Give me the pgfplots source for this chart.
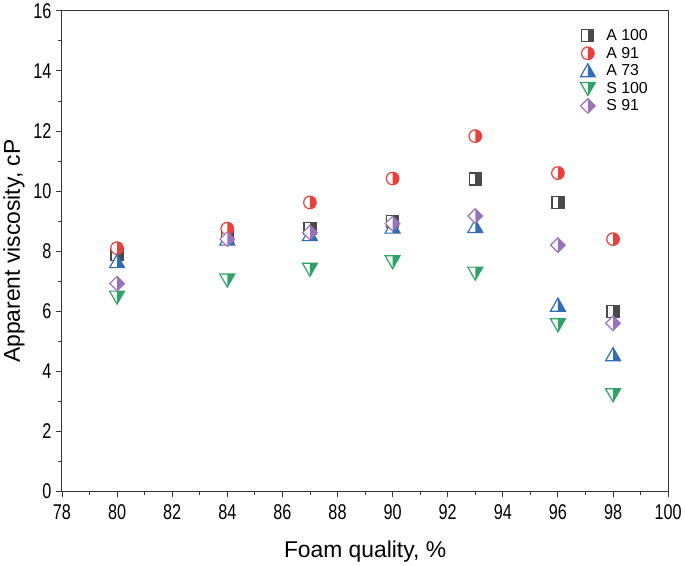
\documentclass[border=0pt]{standalone}
\usepackage{fontspec}
\setmainfont{Liberation Sans}
\newfontfamily\narrowfont[FakeStretch=0.76]{Liberation Sans}
\usepackage{pgfplots}
\pgfplotsset{compat=1.18}
\definecolor{cA100}{HTML}{4A4A4A}
\definecolor{cA91}{HTML}{E8413C}
\definecolor{cA73}{HTML}{2F6DB5}
\definecolor{cS100}{HTML}{2EA363}
\definecolor{cS91}{HTML}{9B72B9}
\definecolor{axc}{HTML}{3A3434}

% half-filled marks (right half filled, left half white)
\pgfdeclareplotmark{hsq}{%
  \begin{pgfscope}\pgfsetfillcolor{white}%
  \pgfpathrectangle{\pgfpoint{-\pgfplotmarksize}{-\pgfplotmarksize}}{\pgfpoint{2\pgfplotmarksize}{2\pgfplotmarksize}}%
  \pgfusepathqfill\end{pgfscope}%
  \pgfpathrectangle{\pgfpoint{0pt}{-\pgfplotmarksize}}{\pgfpoint{\pgfplotmarksize}{2\pgfplotmarksize}}%
  \pgfusepathqfill
  \pgfpathrectangle{\pgfpoint{-\pgfplotmarksize}{-\pgfplotmarksize}}{\pgfpoint{2\pgfplotmarksize}{2\pgfplotmarksize}}%
  \pgfusepathqstroke}
\pgfdeclareplotmark{hci}{%
  \begin{pgfscope}\pgfsetfillcolor{white}%
  \pgfpathcircle{\pgfpointorigin}{\pgfplotmarksize}%
  \pgfusepathqfill\end{pgfscope}%
  \pgfpathmoveto{\pgfpoint{0pt}{\pgfplotmarksize}}%
  \pgfpatharc{90}{-90}{\pgfplotmarksize}\pgfpathclose
  \pgfusepathqfill
  \pgfpathcircle{\pgfpointorigin}{\pgfplotmarksize}%
  \pgfusepathqstroke}
\pgfdeclareplotmark{htu}{%
  \begin{pgfscope}\pgfsetfillcolor{white}%
  \pgfpathmoveto{\pgfpoint{0pt}{0.95\pgfplotmarksize}}%
  \pgfpathlineto{\pgfpoint{\pgfplotmarksize}{-0.8\pgfplotmarksize}}%
  \pgfpathlineto{\pgfpoint{-\pgfplotmarksize}{-0.8\pgfplotmarksize}}\pgfpathclose
  \pgfusepathqfill\end{pgfscope}%
  \pgfpathmoveto{\pgfpoint{0pt}{0.95\pgfplotmarksize}}%
  \pgfpathlineto{\pgfpoint{\pgfplotmarksize}{-0.8\pgfplotmarksize}}%
  \pgfpathlineto{\pgfpoint{0pt}{-0.8\pgfplotmarksize}}\pgfpathclose
  \pgfusepathqfill
  \pgfpathmoveto{\pgfpoint{0pt}{0.95\pgfplotmarksize}}%
  \pgfpathlineto{\pgfpoint{\pgfplotmarksize}{-0.8\pgfplotmarksize}}%
  \pgfpathlineto{\pgfpoint{-\pgfplotmarksize}{-0.8\pgfplotmarksize}}\pgfpathclose
  \pgfusepathqstroke}
\pgfdeclareplotmark{htd}{%
  \begin{pgfscope}\pgfsetfillcolor{white}%
  \pgfpathmoveto{\pgfpoint{0pt}{-0.95\pgfplotmarksize}}%
  \pgfpathlineto{\pgfpoint{\pgfplotmarksize}{0.8\pgfplotmarksize}}%
  \pgfpathlineto{\pgfpoint{-\pgfplotmarksize}{0.8\pgfplotmarksize}}\pgfpathclose
  \pgfusepathqfill\end{pgfscope}%
  \pgfpathmoveto{\pgfpoint{0pt}{-0.95\pgfplotmarksize}}%
  \pgfpathlineto{\pgfpoint{\pgfplotmarksize}{0.8\pgfplotmarksize}}%
  \pgfpathlineto{\pgfpoint{0pt}{0.8\pgfplotmarksize}}\pgfpathclose
  \pgfusepathqfill
  \pgfpathmoveto{\pgfpoint{0pt}{-0.95\pgfplotmarksize}}%
  \pgfpathlineto{\pgfpoint{\pgfplotmarksize}{0.8\pgfplotmarksize}}%
  \pgfpathlineto{\pgfpoint{-\pgfplotmarksize}{0.8\pgfplotmarksize}}\pgfpathclose
  \pgfusepathqstroke}
\pgfdeclareplotmark{hdi}{%
  \begin{pgfscope}\pgfsetfillcolor{white}%
  \pgfpathmoveto{\pgfpoint{0pt}{\pgfplotmarksize}}%
  \pgfpathlineto{\pgfpoint{\pgfplotmarksize}{0pt}}%
  \pgfpathlineto{\pgfpoint{0pt}{-\pgfplotmarksize}}%
  \pgfpathlineto{\pgfpoint{-\pgfplotmarksize}{0pt}}\pgfpathclose
  \pgfusepathqfill\end{pgfscope}%
  \pgfpathmoveto{\pgfpoint{0pt}{\pgfplotmarksize}}%
  \pgfpathlineto{\pgfpoint{\pgfplotmarksize}{0pt}}%
  \pgfpathlineto{\pgfpoint{0pt}{-\pgfplotmarksize}}\pgfpathclose
  \pgfusepathqfill
  \pgfpathmoveto{\pgfpoint{0pt}{\pgfplotmarksize}}%
  \pgfpathlineto{\pgfpoint{\pgfplotmarksize}{0pt}}%
  \pgfpathlineto{\pgfpoint{0pt}{-\pgfplotmarksize}}%
  \pgfpathlineto{\pgfpoint{-\pgfplotmarksize}{0pt}}\pgfpathclose
  \pgfusepathqstroke}

\begin{document}
\begin{tikzpicture}
\begin{axis}[
  scale only axis, width=608bp, height=482bp,
  xmin=78, xmax=100, ymin=0, ymax=16,
  xtick={78,80,...,100}, ytick={0,2,...,16},
  minor x tick num=1, minor y tick num=1,
  tick align=outside, xtick pos=left, ytick pos=left,
  major tick length=6bp, minor tick length=4bp,
  axis line style={axc, line width=1bp},
  every tick/.style={axc, line width=0.9bp},
  tick label style={font=\narrowfont\fontsize{21.5}{21.5}\selectfont, text=black},
  xticklabel style={yshift=-4bp},
  yticklabel style={xshift=-1bp},
  /pgf/number format/assume math mode=true,
  xlabel={Foam quality, \%}, ylabel={Apparent viscosity, cP},
  label style={font=\fontsize{23}{23}\selectfont},
  xlabel style={yshift=-14bp},
  ylabel style={yshift=2bp},
  legend style={at={(0.975,0.97)}, anchor=north east, draw=none, fill=none,
    font=\fontsize{16}{19}\selectfont, row sep=1bp, column sep=9bp},
  legend cell align=left,
]
\addplot[only marks, mark=hsq, color=cA100, mark size=6bp, mark options={line width=1.2bp}] coordinates {
(80,7.9) (84,8.45) (87,8.75) (90,9.0) (93,10.4) (96,9.62) (98,6.0)};
\addlegendentry{A 100}
\addplot[only marks, mark=hci, color=cA91, mark size=6.3bp, mark options={line width=1.2bp}] coordinates {
(80,8.1) (84,8.75) (87,9.62) (90,10.42) (93,11.83) (96,10.6) (98,8.4)};
\addlegendentry{A 91}
\addplot[only marks, mark=htu, color=cA73, mark size=7.5bp, mark options={line width=1.2bp}] coordinates {
(80,7.65) (84,8.4) (87,8.55) (90,8.8) (93,8.82) (96,6.2) (98,4.55)};
\addlegendentry{A 73}
\addplot[only marks, mark=htd, color=cS100, mark size=7.5bp, mark options={line width=1.2bp}] coordinates {
(80,6.47) (84,7.04) (87,7.4) (90,7.65) (93,7.27) (96,5.55) (98,3.22)};
\addlegendentry{S 100}
\addplot[only marks, mark=hdi, color=cS91, mark size=7.3bp, mark options={line width=1.2bp}] coordinates {
(80,6.92) (84,8.4) (87,8.62) (90,8.92) (93,9.17) (96,8.2) (98,5.6)};
\addlegendentry{S 91}
\end{axis}
\end{tikzpicture}
\end{document}
